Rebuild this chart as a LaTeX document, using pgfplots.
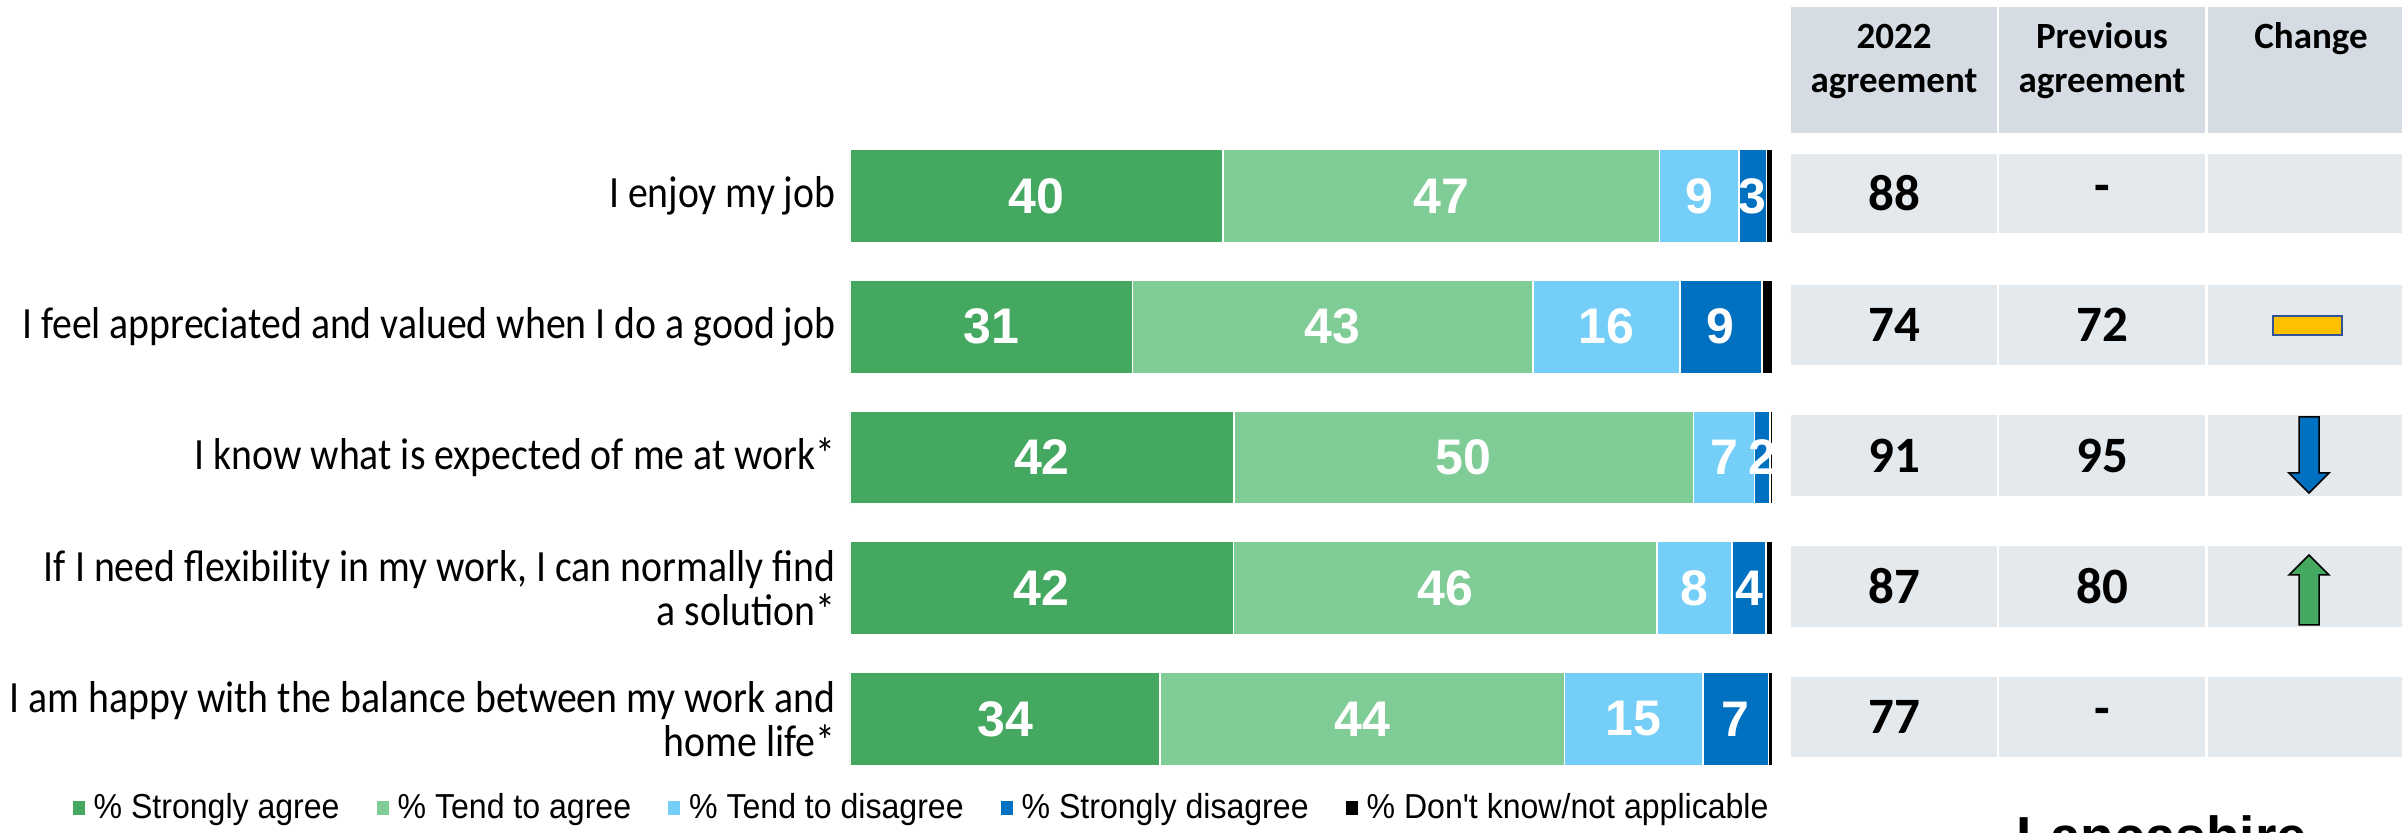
\documentclass[border=0pt]{standalone}
\usepackage{pgfplots}
\pgfplotsset{compat=1.18}
\usepackage{pgfplotstable}
\usepackage{fontspec}
\setmainfont{Liberation Sans}
\newfontfamily\calibri{Carlito}
\newfontfamily\calibrinarrow[FakeStretch=0.89]{Carlito}
\newfontfamily\arialnarrow[FakeStretch=0.925]{Liberation Sans}
\definecolor{sa}{HTML}{44A861}
\definecolor{ta}{HTML}{80CC96}
\definecolor{td}{HTML}{74CEF7}
\definecolor{sd}{HTML}{0070C0}
\definecolor{hdr}{HTML}{D6DCE4}
\definecolor{cellc}{HTML}{E4E9ED}
\definecolor{rectborder}{HTML}{2F5597}
\definecolor{yel}{HTML}{FFC000}

% rows: 5 = top (I enjoy my job) ... 1 = bottom
\pgfplotstableread{
row sa    ta   td   sd  dk
5   40.4  47.3 8.6  3.0 0.7
4   30.6  43.4 15.9 8.9 1.2
3   41.6  49.8 6.6  1.7 0.3
2   41.55 45.9 8.1  3.7 0.75
1   33.6  43.8 15.0 7.1 0.5
}\datatable

\begin{document}
\begin{tikzpicture}[x=0.3pt,y=0.3pt]
\useasboundingbox (0,0) rectangle (2402,833);
\begin{axis}[
  at={(255pt,14.58pt)}, anchor=south west,
  scale only axis, width=276.9pt, height=196.125pt,
  xbar stacked, bar width=28.05pt,
  xmin=0, xmax=100, ymin=0.5, ymax=5.5,
  axis line style={draw=none},
  xtick=\empty,
  ytick={1,2,3,4,5},
  yticklabels={{I am happy with the balance between my work and\\home life*},
    {If I need flexibility in my work, I can normally find\\a solution*},
    {I know what is expected of me at work*},
    {I feel appreciated and valued when I do a good job},
    {I enjoy my job}},
  major tick length=0pt, tick style={draw=none},
  yticklabel style={font=\calibrinarrow\fontsize{13.4pt}{13.2pt}\selectfont, align=right, inner sep=0pt, xshift=-4.2pt},
  every axis plot/.append style={draw=white, line width=0.5pt},
  legend columns=5,
  legend image code/.code={\path[#1, draw=none] (0pt,-2.1pt) rectangle (3.6pt,2.1pt);},
  legend style={draw=none, fill=none, at={(-0.8429,-0.0361)}, anchor=west,
    font=\arialnarrow\fontsize{10.4pt}{11pt}\selectfont, inner sep=0pt,
    nodes={inner sep=0pt},
    /tikz/every odd column/.style={column sep=2.7pt},
    /tikz/every even column/.style={column sep=11.1pt}},
  nodelab/.style={nodes near coords={\pgfmathprintnumber[fixed,precision=0,assume math mode=true]{\pgfplotspointmeta}},
    every node near coord/.append style={font=\bfseries\fontsize{15pt}{15pt}\selectfont, text=white}},
]
\addplot[fill=sa, nodelab, point meta=\thisrow{sa}] table[x=sa, y=row] {\datatable};
\addlegendentry{\% Strongly agree}
\addplot[fill=ta, nodelab, point meta=\thisrow{ta}] table[x=ta, y=row] {\datatable};
\addlegendentry{\% Tend to agree}
\addplot[fill=td, nodelab, point meta=\thisrow{td}] table[x=td, y=row] {\datatable};
\addlegendentry{\% Tend to disagree}
\addplot[fill=sd, nodelab, point meta=\thisrow{sd}] table[x=sd, y=row] {\datatable};
\addlegendentry{\% Strongly disagree}
\addplot[fill=black] table[x=dk, y=row] {\datatable};
\addlegendentry{\% Don't know/not applicable}
\end{axis}

% table header
\fill[hdr] (1791,{833-7}) rectangle (1997,{833-133});
\fill[hdr] (1999,{833-7}) rectangle (2205,{833-133});
\fill[hdr] (2208,{833-7}) rectangle (2414,{833-133});
\begin{scope}[every node/.style={font=\calibri\bfseries\fontsize{11.1pt}{13pt}\selectfont, inner sep=0pt, anchor=base}]
\node at (1894,{833-49}) {2022};
\node at (1894,{833-93}) {agreement};
\node at (2102,{833-49}) {Previous};
\node at (2102,{833-93}) {agreement};
\node at (2311,{833-49}) {Change};
\end{scope}

% table rows
\foreach \t/\b in {154/233, 285/365, 415/496, 546/627, 677/757}{
  \fill[cellc] (1791,{833-\t}) rectangle (1997,{833-\b});
  \fill[cellc] (1999,{833-\t}) rectangle (2205,{833-\b});
  \fill[cellc] (2208,{833-\t}) rectangle (2414,{833-\b});
}
\begin{scope}[every node/.style={font=\calibri\bfseries\fontsize{15.3pt}{16pt}\selectfont, inner sep=0pt, anchor=center}]
\node at (1894,{833-193.5}) {88};  \node at (2102,{833-193.5}) {-};
\node at (1894,{833-325}) {74};    \node at (2102,{833-325}) {72};
\node at (1894,{833-455.5}) {91};  \node at (2102,{833-455.5}) {95};
\node at (1894,{833-586.5}) {87};  \node at (2102,{833-586.5}) {80};
\node at (1894,{833-717}) {77};    \node at (2102,{833-717}) {-};
\end{scope}

% change icons
\draw[fill=yel, draw=rectborder, line width=0.4pt] (2273,{833-316}) rectangle (2342,{833-335});
\draw[fill=sd, draw=black, line width=0.45pt]
  (2299,{833-417}) -- (2319,{833-417}) -- (2319,{833-473}) -- (2329,{833-473})
  -- (2309,{833-493}) -- (2289,{833-473}) -- (2299,{833-473}) -- cycle;
\draw[fill=sa, draw=black, line width=0.45pt]
  (2299,{833-625}) -- (2319,{833-625}) -- (2319,{833-575}) -- (2329,{833-575})
  -- (2309,{833-555}) -- (2289,{833-575}) -- (2299,{833-575}) -- cycle;

% logo text (cut off at the bottom, as in the reference)
\begin{scope}
\clip (0,0) rectangle (2402,833);
\node[anchor=base west, inner sep=0pt, font=\bfseries\fontsize{16.5pt}{18pt}\selectfont] at (2016,-23) {Lancashire};
\end{scope}
\end{tikzpicture}
\end{document}
